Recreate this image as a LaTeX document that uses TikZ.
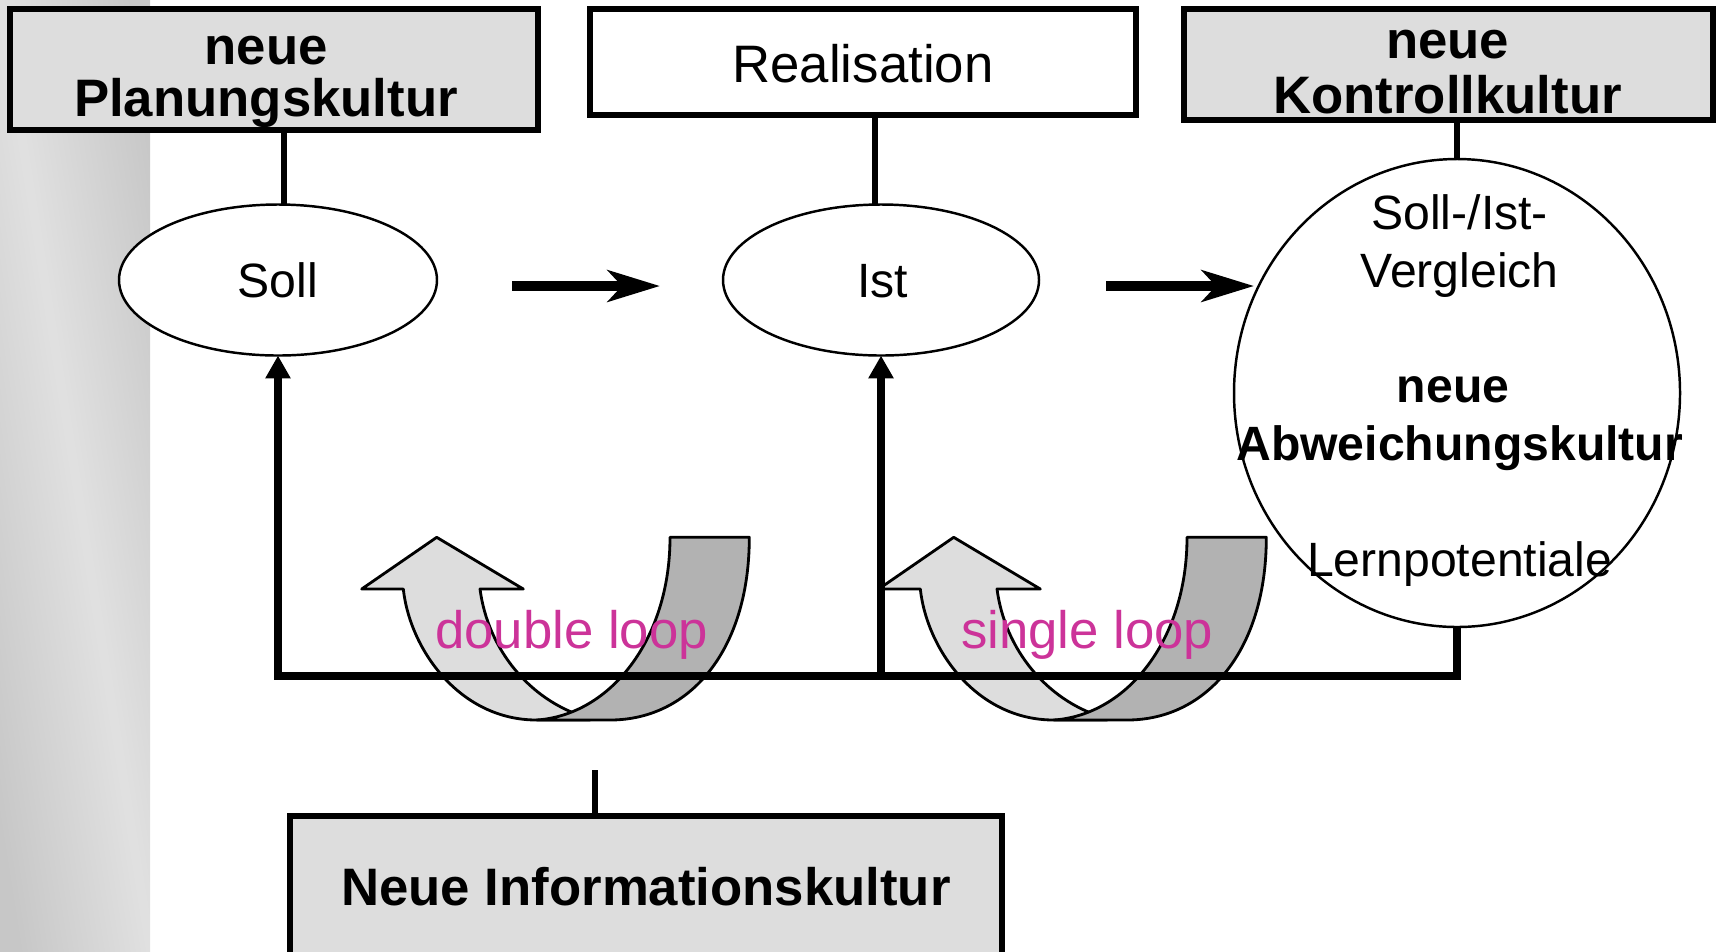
\documentclass[tikz,border=0pt]{standalone}
\usepackage{fontspec}
\setmainfont{Liberation Sans}
\usetikzlibrary{shapes.geometric,arrows.meta}
\definecolor{boxgray}{HTML}{DDDDDD}
\definecolor{darkband}{HTML}{B2B2B2}
\definecolor{loopmag}{HTML}{CC3399}
\begin{document}
\begin{tikzpicture}[x=0.1mm,y=-0.1mm,
  txt/.style={font=\fontsize{15}{15}\selectfont, inner sep=0, outer sep=0, anchor=base},
  btxt/.style={txt, font=\fontsize{15}{15}\selectfont\bfseries},
  stxt/.style={txt, font=\fontsize{13.7}{14}\selectfont},
  sbtxt/.style={txt, font=\fontsize{13.7}{14}\selectfont\bfseries},
  box/.style={draw, line width=1.6pt, inner sep=0, outer sep=0, rectangle},
  oval/.style={draw, ellipse, line width=0.7pt, fill=white, inner sep=0, outer sep=0},
  conn/.style={line width=1.6pt},
  flow/.style={line width=3pt, -{Stealth[length=14.8pt,width=8.9pt,inset=4pt]}},
  fbarrow/.style={line width=2.3pt, -{Triangle[length=6.5pt,width=6.8pt]}},
  band/.style={draw, line width=0.8pt, line join=round},
  looptxt/.style={txt, text=loopmag}
]
\useasboundingbox (0,0) rectangle (1717,951);
\clip (0,0) rectangle (1717,951);
% left strip
\shade[left color=black!22, right color=black!22, middle color=black!12, shading angle=99] (0,0) rectangle (150,951);

% boxes
\node[box, fill=boxgray, minimum width=52.8mm, minimum height=12.1mm] (PL) at (274,69.5) {};
\node[box, fill=white, minimum width=54.6mm, minimum height=10.6mm] (R) at (863,62) {};
\node[box, fill=boxgray, minimum width=52.9mm, minimum height=11.1mm] (KK) at (1448.5,64.5) {};
\node[box, fill=boxgray, minimum width=71.2mm, minimum height=14.9mm] (NI) at (646,890.5) {};

% ellipses
\node[oval, minimum width=31.8mm, minimum height=15.1mm] (Soll) at (278,280) {};
\node[oval, minimum width=31.6mm, minimum height=15.1mm] (Ist) at (881,280) {};
\node[oval, minimum width=44.6mm, minimum height=46.8mm] (KV) at (1457,393) {};

% connectors from boxes
\coordinate (c1) at (284,0);
\coordinate (c2) at (875,0);
\coordinate (c3) at (1457,0);
\draw[conn] (PL.south -| c1) -- (Soll.north -| c1);
\draw[conn] (R.south -| c2) -- (Ist.north -| c2);
\draw[conn] (KK.south -| c3) -- (KV.north);
\coordinate (nt) at (595,770);
\draw[conn] (nt) -- (nt |- NI.north);

% flow arrows
\coordinate (f1s) at (512,286);
\coordinate (f1e) at (660,286);
\coordinate (f2s) at (1106,286);
\coordinate (f2e) at (1254,286);
\draw[flow] (f1s) -- (f1e);
\draw[flow] (f2s) -- (f2e);

% loop arrows
\foreach \s in {0,517}{
\begin{scope}[shift={(\s,0)}]
\path[band, fill=boxgray] (536.7,720) .. controls (460,720) and (410,650) .. (403.3,589)
  -- (361.7,589) -- (436.7,537.3) -- (523.3,589) -- (480,589)
  .. controls (488,650) and (530,700) .. (585,717) -- (590,720) -- cycle;
\path[band, fill=darkband] (670,537.3) -- (749.3,537.3)
  .. controls (749.3,650) and (690,720) .. (610,720) -- (536.7,720)
  .. controls (610,715) and (670,640) .. (670,537.3) -- cycle;
\end{scope}
}

% feedback lines
\coordinate (fbL) at (278,676);
\coordinate (fbM) at (881,676);
\draw[fbarrow] (KV.south) |- (fbL) -- (Soll.south);
\draw[fbarrow] (fbM) -- (Ist.south);

% texts
\node[btxt] (t1) at (266,64.1) {neue};
\node[btxt] (t2) at (266,116.4) {Planungskultur};
\node[txt] (t3) at (863,82.4) {Realisation};
\node[btxt] (t4) at (1447.6,58.6) {neue};
\node[btxt] (t5) at (1447.6,113) {Kontrollkultur};
\node[stxt] (t6) at (277.6,297.4) {Soll};
\node[stxt] (t7) at (882.6,297.4) {Ist};
\node[stxt] (t8) at (1459.6,229.5) {Soll-/Ist-};
\node[stxt] (t9) at (1459.6,287) {Vergleich};
\node[sbtxt] (t10) at (1453,402.2) {neue};
\node[sbtxt] (t11) at (1459.6,460) {Abweichungskultur};
\node[stxt] (t12) at (1459.6,576) {Lernpotentiale};
\node[btxt] (t13) at (646,905.9) {Neue Informationskultur};
\node[looptxt] (t14) at (571.6,648.8) {double loop};
\node[looptxt] (t15) at (1087.3,648.8) {single loop};
\end{tikzpicture}
\end{document}
